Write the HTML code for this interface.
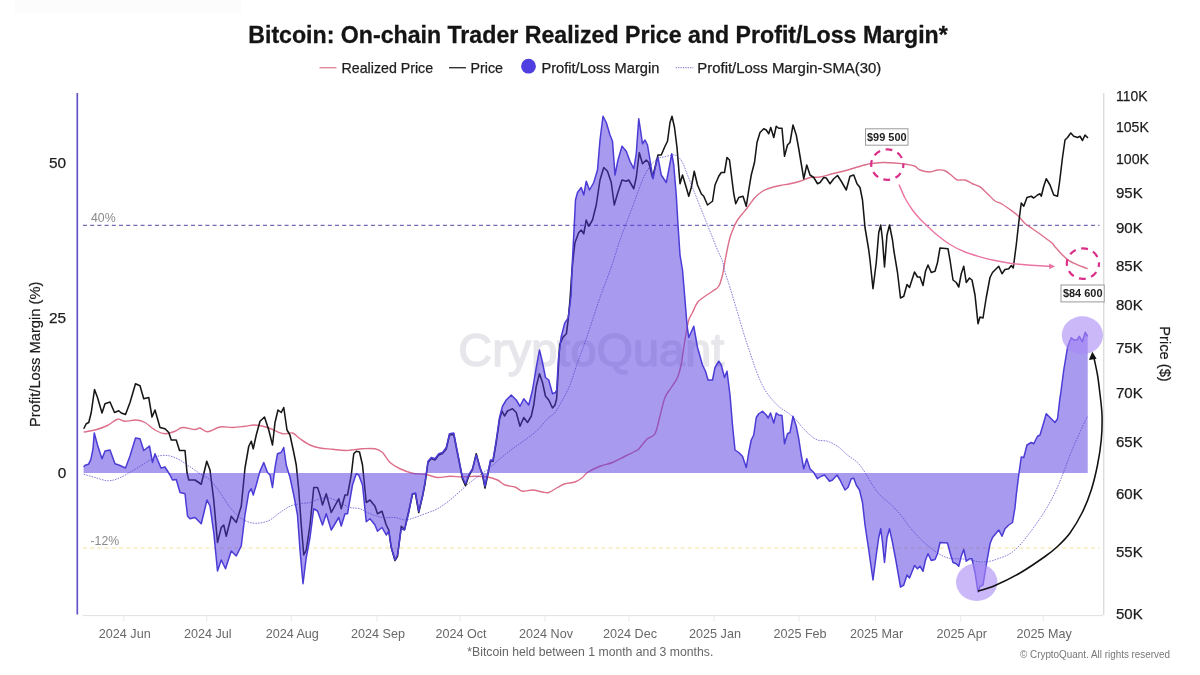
<!DOCTYPE html>
<html lang="en">
<head>
<meta charset="utf-8">
<title>Bitcoin: On-chain Trader Realized Price and Profit/Loss Margin</title>
<style>
html,body{margin:0;padding:0;background:#fff;}
body{width:1200px;height:675px;overflow:hidden;font-family:"Liberation Sans",sans-serif;}
svg{display:block;}
svg text{font-family:"Liberation Sans",sans-serif;}
.title{font-size:23.2px;font-weight:700;fill:#141414;stroke:#141414;stroke-width:.3px;}
.legend text{font-size:14.2px;fill:#1e1e1e;stroke:#1e1e1e;stroke-width:.25px;}
.yl text{font-size:15.4px;fill:#1c1c1c;stroke:#1c1c1c;stroke-width:.25px;text-anchor:end;}
.yr text{font-size:15px;fill:#1c1c1c;stroke:#1c1c1c;stroke-width:.25px;}
.xl text{font-size:12.6px;fill:#686868;text-anchor:middle;}
.axt{font-size:14.7px;fill:#1c1c1c;stroke:#1c1c1c;stroke-width:.2px;text-anchor:middle;}
.ref{font-size:12.3px;fill:#8a8a8a;}
.note{font-size:12px;fill:#666;text-anchor:middle;}
.copy{font-size:10.2px;fill:#777;text-anchor:end;}
.tag{font-size:10.95px;font-weight:700;fill:#222;text-anchor:middle;}
.wm{font-size:46.5px;fill:#e6e6eb;stroke:#e6e6eb;stroke-width:1.4px;stroke-linejoin:round;text-anchor:middle;}
</style>
</head>
<body>
<svg width="1200" height="675" viewBox="0 0 1200 675">
<rect x="0" y="0" width="1200" height="675" fill="#ffffff"/>
<rect x="15" y="0" width="226" height="14" fill="#fcfcfc"/>

<!-- title -->
<text class="title" x="598" y="42.9" text-anchor="middle" textLength="699.5" lengthAdjust="spacingAndGlyphs">Bitcoin: On-chain Trader Realized Price and Profit/Loss Margin*</text>

<!-- legend -->
<g class="legend">
<line x1="319.5" y1="67.7" x2="336.5" y2="67.7" stroke="#e08aa0" stroke-width="1.4"/>
<text x="341.6" y="73" textLength="91.5" lengthAdjust="spacingAndGlyphs">Realized Price</text>
<line x1="449" y1="67.7" x2="466" y2="67.7" stroke="#333" stroke-width="1.4"/>
<text x="470.5" y="73" textLength="32.5" lengthAdjust="spacingAndGlyphs">Price</text>
<circle cx="528.5" cy="66.2" r="7.4" fill="#4f3fe0"/>
<text x="541.4" y="73" textLength="118" lengthAdjust="spacingAndGlyphs">Profit/Loss Margin</text>
<line x1="675.7" y1="67.7" x2="693.3" y2="67.7" stroke="#6a62c8" stroke-width="1" stroke-dasharray="1.2 1.2"/>
<text x="697.3" y="73" textLength="184" lengthAdjust="spacingAndGlyphs">Profit/Loss Margin-SMA(30)</text>
</g>

<!-- watermark -->
<text class="wm" x="591.3" y="366" textLength="266" lengthAdjust="spacingAndGlyphs">CryptoQuant</text>

<!-- axes -->
<line x1="82.5" y1="615.6" x2="1103" y2="615.6" stroke="#e0e0e0" stroke-width="1"/>
<g stroke="#e8e8e8" stroke-width="1"><line x1="123.75" y1="615.6" x2="123.75" y2="621.5"/><line x1="206.75" y1="615.6" x2="206.75" y2="621.5"/><line x1="291.25" y1="615.6" x2="291.25" y2="621.5"/><line x1="377" y1="615.6" x2="377" y2="621.5"/><line x1="460" y1="615.6" x2="460" y2="621.5"/><line x1="545" y1="615.6" x2="545" y2="621.5"/><line x1="629" y1="615.6" x2="629" y2="621.5"/><line x1="714" y1="615.6" x2="714" y2="621.5"/><line x1="799" y1="615.6" x2="799" y2="621.5"/><line x1="875.5" y1="615.6" x2="875.5" y2="621.5"/><line x1="960.75" y1="615.6" x2="960.75" y2="621.5"/><line x1="1043.25" y1="615.6" x2="1043.25" y2="621.5"/></g>
<line x1="1103.7" y1="93" x2="1103.7" y2="615" stroke="#dcdcdc" stroke-width="1.4"/>
<line x1="77.3" y1="93" x2="77.3" y2="614.5" stroke="#6055c6" stroke-width="1.7"/>

<!-- ref lines -->
<line x1="83" y1="225.3" x2="1099.5" y2="225.3" stroke="#3b3296" stroke-width="0.9" stroke-dasharray="4 3.2"/>
<line x1="83" y1="548" x2="1099.5" y2="548" stroke="#efe49a" stroke-width="1.2" stroke-dasharray="4 3.2"/>
<text class="ref" x="91" y="222.3">40%</text>
<text class="ref" x="90.5" y="545.3">-12%</text>

<!-- realized price -->
<path d="M83.75,432.00C85.62,431.67 91.04,431.08 95.00,430.00C98.96,428.92 103.75,427.29 107.50,425.50C111.25,423.71 114.58,419.96 117.50,419.25C120.42,418.54 121.88,421.12 125.00,421.25C128.12,421.38 132.92,419.79 136.25,420.00C139.58,420.21 141.88,420.83 145.00,422.50C148.12,424.17 151.67,428.12 155.00,430.00C158.33,431.88 161.67,433.54 165.00,433.75C168.33,433.96 172.08,432.29 175.00,431.25C177.92,430.21 179.17,427.79 182.50,427.50C185.83,427.21 192.08,429.42 195.00,429.50C197.92,429.58 197.92,427.62 200.00,428.00C202.08,428.38 204.17,431.92 207.50,431.75C210.83,431.58 215.83,427.71 220.00,427.00C224.17,426.29 228.33,427.62 232.50,427.50C236.67,427.38 241.25,426.67 245.00,426.25C248.75,425.83 251.25,424.79 255.00,425.00C258.75,425.21 262.92,426.04 267.50,427.50C272.08,428.96 278.33,432.83 282.50,433.75C286.67,434.67 289.58,432.17 292.50,433.00C295.42,433.83 297.08,436.75 300.00,438.75C302.92,440.75 306.67,443.46 310.00,445.00C313.33,446.54 316.25,447.29 320.00,448.00C323.75,448.71 328.33,448.83 332.50,449.25C336.67,449.67 340.83,450.50 345.00,450.50C349.17,450.50 354.58,449.54 357.50,449.25C360.42,448.96 359.58,448.83 362.50,448.75C365.42,448.67 371.67,448.12 375.00,448.75C378.33,449.38 380.00,450.21 382.50,452.50C385.00,454.79 387.08,459.79 390.00,462.50C392.92,465.21 396.25,466.96 400.00,468.75C403.75,470.54 408.33,472.33 412.50,473.25C416.67,474.17 420.83,473.54 425.00,474.25C429.17,474.96 433.33,477.17 437.50,477.50C441.67,477.83 445.83,476.33 450.00,476.25C454.17,476.17 458.33,477.00 462.50,477.00C466.67,477.00 470.83,476.25 475.00,476.25C479.17,476.25 483.75,476.38 487.50,477.00C491.25,477.62 494.58,478.67 497.50,480.00C500.42,481.33 502.08,483.83 505.00,485.00C507.92,486.17 512.08,485.96 515.00,487.00C517.92,488.04 519.58,490.75 522.50,491.25C525.42,491.75 529.17,489.88 532.50,490.00C535.83,490.12 539.79,491.58 542.50,492.00C545.21,492.42 546.25,493.25 548.75,492.50C551.25,491.75 554.79,488.96 557.50,487.50C560.21,486.04 562.08,484.67 565.00,483.75C567.92,482.83 572.08,483.04 575.00,482.00C577.92,480.96 580.42,479.08 582.50,477.50C584.58,475.92 584.58,474.38 587.50,472.50C590.42,470.62 595.83,467.92 600.00,466.25C604.17,464.58 608.33,464.17 612.50,462.50C616.67,460.83 620.83,458.33 625.00,456.25C629.17,454.17 635.00,451.46 637.50,450.00C640.00,448.54 638.33,449.38 640.00,447.50C641.67,445.62 645.00,441.04 647.50,438.75C650.00,436.46 652.92,437.54 655.00,433.75C657.08,429.96 658.33,422.04 660.00,416.00C661.67,409.96 663.12,402.25 665.00,397.50C666.88,392.75 669.17,390.83 671.25,387.50C673.33,384.17 675.83,381.42 677.50,377.50C679.17,373.58 680.21,369.00 681.25,364.00C682.29,359.00 682.92,352.75 683.75,347.50C684.58,342.25 685.42,337.08 686.25,332.50C687.08,327.92 687.71,323.33 688.75,320.00C689.79,316.67 691.04,315.42 692.50,312.50C693.96,309.58 695.42,305.21 697.50,302.50C699.58,299.79 702.50,298.12 705.00,296.25C707.50,294.38 710.21,292.92 712.50,291.25C714.79,289.58 717.08,288.96 718.75,286.25C720.42,283.54 721.54,278.75 722.50,275.00C723.46,271.25 723.67,268.17 724.50,263.75C725.33,259.33 726.58,252.88 727.50,248.50C728.42,244.12 728.96,241.00 730.00,237.50C731.04,234.00 732.50,230.42 733.75,227.50C735.00,224.58 736.04,222.29 737.50,220.00C738.96,217.71 740.83,215.83 742.50,213.75C744.17,211.67 745.42,210.21 747.50,207.50C749.58,204.79 752.50,200.21 755.00,197.50C757.50,194.79 760.00,192.83 762.50,191.25C765.00,189.67 767.08,188.96 770.00,188.00C772.92,187.04 776.67,186.21 780.00,185.50C783.33,184.79 786.67,184.46 790.00,183.75C793.33,183.04 796.67,182.29 800.00,181.25C803.33,180.21 806.67,178.21 810.00,177.50C813.33,176.79 816.25,177.62 820.00,177.00C823.75,176.38 828.33,174.79 832.50,173.75C836.67,172.71 840.83,171.88 845.00,170.75C849.17,169.62 853.33,168.17 857.50,167.00C861.67,165.83 865.83,164.50 870.00,163.75C874.17,163.00 878.33,162.62 882.50,162.50C886.67,162.38 890.83,162.67 895.00,163.00C899.17,163.33 904.17,163.96 907.50,164.50C910.83,165.04 912.92,165.33 915.00,166.25C917.08,167.17 917.50,169.04 920.00,170.00C922.50,170.96 927.08,172.00 930.00,172.00C932.92,172.00 935.00,170.21 937.50,170.00C940.00,169.79 942.50,169.71 945.00,170.75C947.50,171.79 950.42,174.71 952.50,176.25C954.58,177.79 955.42,179.38 957.50,180.00C959.58,180.62 962.50,179.38 965.00,180.00C967.50,180.62 970.00,182.60 972.50,183.75C975.00,184.90 977.50,185.24 980.00,186.90C982.50,188.56 985.00,191.35 987.50,193.70C990.00,196.05 992.75,199.37 995.00,201.00C997.25,202.63 998.50,202.08 1001.00,203.50C1003.50,204.92 1007.25,207.53 1010.00,209.50C1012.75,211.47 1015.00,212.97 1017.50,215.30C1020.00,217.63 1022.50,221.25 1025.00,223.50C1027.50,225.75 1030.00,227.05 1032.50,228.80C1035.00,230.55 1037.75,232.38 1040.00,234.00C1042.25,235.62 1044.00,237.00 1046.00,238.50C1048.00,240.00 1050.50,241.63 1052.00,243.00C1053.50,244.37 1053.25,244.70 1055.00,246.70C1056.75,248.70 1060.25,252.73 1062.50,255.00C1064.75,257.27 1066.00,258.67 1068.50,260.30C1071.00,261.93 1075.08,263.68 1077.50,264.80C1079.92,265.92 1081.30,266.33 1083.00,267.00C1084.70,267.67 1086.92,268.50 1087.70,268.80" fill="none" stroke="#dd6f8b" stroke-width="1.4"/>

<!-- price -->
<polyline points="83.75,428.75 86.25,423.75 88.75,422.50 91.25,412.50 94.50,389.50 97.50,397.50 102.00,413.00 105.00,403.75 110.00,402.00 114.50,412.50 118.75,410.75 121.25,413.00 125.50,414.50 130.00,402.50 135.50,383.75 140.00,385.75 143.75,398.75 148.75,397.50 152.00,417.00 155.00,410.00 160.00,427.50 165.00,428.75 168.75,432.50 171.25,440.00 176.25,440.00 179.50,450.50 185.00,450.50 187.00,472.50 188.75,480.00 195.00,480.00 201.25,484.25 206.75,461.25 210.00,470.00 213.75,500.00 217.50,542.50 221.25,527.50 223.75,525.00 226.25,536.25 231.25,516.25 236.25,522.50 241.25,506.25 245.00,468.00 248.75,446.25 251.25,441.25 253.25,448.75 256.25,435.00 260.00,421.25 264.50,417.00 268.75,430.00 272.50,445.00 275.00,422.50 278.00,410.00 281.25,412.50 283.75,407.50 287.00,430.00 290.00,435.00 293.75,452.50 296.25,465.00 298.75,490.00 301.25,525.00 303.75,555.00 306.25,550.00 310.00,525.00 313.75,487.50 317.50,487.50 320.00,495.00 322.50,505.00 326.25,493.75 331.25,512.50 338.75,498.75 341.25,508.75 345.00,495.00 347.50,495.00 351.25,475.00 353.75,453.75 356.25,451.25 359.50,452.00 362.50,465.00 366.25,502.50 370.00,500.00 375.00,506.25 377.50,513.75 382.00,511.25 386.25,525.00 388.75,530.00 391.25,547.50 395.00,560.50 397.50,556.25 401.25,526.25 404.50,529.50 408.75,511.25 412.50,493.75 415.50,493.75 418.75,512.50 422.50,496.25 425.00,483.75 428.00,462.50 431.25,458.50 435.00,460.00 438.75,455.00 442.50,453.50 446.25,449.00 449.50,435.00 453.75,434.50 457.00,451.00 460.00,466.00 462.50,479.00 465.50,485.75 468.75,476.00 472.50,469.50 476.25,453.75 480.00,468.00 482.50,475.00 485.00,488.00 487.50,476.00 490.50,461.25 493.00,461.25 496.25,442.50 499.50,419.50 502.00,411.00 504.50,416.00 507.50,411.00 512.50,408.75 516.25,412.50 520.00,426.25 523.75,417.50 527.50,422.50 531.25,416.25 533.75,405.00 536.25,386.25 539.50,373.75 542.50,382.50 545.50,396.25 548.75,400.00 552.50,408.00 555.00,405.00 556.60,399.00 558.00,375.00 559.60,345.00 562.90,337.30 566.40,333.80 568.20,319.60 570.00,300.00 572.00,270.00 573.50,255.00 575.00,242.50 578.75,232.50 581.25,230.00 583.75,233.75 586.25,220.00 588.75,226.25 592.50,220.00 596.25,205.00 600.00,180.00 603.75,167.50 607.50,171.25 611.25,182.50 614.25,205.00 617.50,193.75 622.00,180.00 626.25,181.25 628.75,180.00 633.75,188.75 636.25,177.50 639.25,152.50 642.50,163.75 646.25,160.00 648.75,162.50 652.50,177.50 655.00,167.50 658.00,155.00 661.25,155.00 665.00,146.25 667.50,141.25 670.00,122.50 672.00,116.25 674.50,127.50 677.00,147.50 680.00,183.75 682.50,175.00 686.25,187.50 688.75,196.25 691.25,187.50 694.25,171.25 697.50,185.00 701.25,193.75 703.75,196.25 707.50,205.00 712.50,201.25 715.00,185.00 718.75,176.25 721.25,172.50 724.50,172.50 727.00,157.50 729.50,160.00 732.00,180.00 733.75,193.75 735.75,203.75 738.75,197.50 743.00,196.25 746.25,206.25 748.75,190.00 751.25,175.00 754.50,162.50 757.00,142.50 760.00,132.50 763.75,128.75 766.25,130.00 768.75,133.75 770.75,127.50 773.75,137.50 776.25,126.25 778.75,128.25 782.00,128.25 784.50,156.25 787.50,145.00 790.00,142.50 793.00,125.00 796.25,135.00 798.75,148.75 801.25,163.75 803.75,178.75 806.75,165.00 810.00,175.00 813.75,177.50 817.50,183.75 820.00,182.50 823.75,177.50 826.25,178.00 830.00,183.75 833.75,178.75 837.50,175.50 841.25,181.25 846.25,190.00 850.00,176.25 853.75,175.00 857.00,183.75 860.00,187.50 862.50,200.00 865.00,227.50 868.75,250.00 870.00,260.00 873.00,288.75 876.25,262.50 878.75,232.50 880.75,225.00 882.50,240.00 884.50,267.00 887.00,235.00 889.50,225.00 892.50,240.00 893.75,250.00 897.50,272.50 900.50,298.00 903.75,296.25 907.00,284.50 909.50,287.50 914.50,272.00 917.50,277.00 920.00,277.00 923.00,285.50 925.50,271.25 928.00,265.00 931.25,272.50 935.00,271.25 937.50,262.50 940.00,248.00 948.00,248.75 950.00,260.00 953.00,280.00 956.25,282.50 958.75,287.00 961.25,273.75 963.75,266.25 966.25,282.50 969.50,278.00 972.00,280.00 975.00,295.00 978.00,323.75 980.00,317.00 983.00,318.00 986.25,297.50 990.00,277.50 992.50,272.50 998.75,266.25 1002.00,273.75 1005.00,269.50 1008.75,268.75 1011.25,265.50 1013.25,268.00 1016.25,245.00 1018.75,222.50 1021.25,203.00 1023.75,206.25 1027.00,197.50 1031.25,196.25 1033.75,198.00 1037.50,195.00 1040.00,193.75 1041.25,196.25 1043.75,186.25 1046.25,178.75 1050.00,185.00 1053.75,195.00 1057.50,196.25 1059.50,182.50 1062.50,157.50 1065.00,140.00 1067.50,137.50 1070.75,133.00 1073.75,136.25 1077.50,137.50 1080.00,136.25 1082.50,140.50 1085.00,135.00 1088.00,138.00" fill="none" stroke="#161616" stroke-width="1.55" stroke-linejoin="round"/>

<!-- margin area -->
<path d="M83.60,473.0 L83.60,467.00 L85.20,465.30 L88.40,464.30 L90.80,459.60 L93.00,449.00 L94.25,433.00 L97.50,445.00 L102.00,458.75 L105.00,451.00 L110.00,450.00 L115.00,463.75 L118.75,465.00 L121.00,466.00 L125.50,468.00 L130.00,456.00 L135.50,438.00 L140.00,438.75 L143.75,450.50 L149.50,446.00 L152.50,462.50 L155.00,453.75 L161.00,468.00 L165.00,467.00 L170.00,475.00 L172.50,480.00 L176.25,479.50 L180.00,492.50 L185.00,493.75 L187.50,516.00 L190.00,518.75 L195.00,517.50 L201.25,523.75 L207.00,500.00 L210.00,506.00 L213.75,532.50 L217.50,571.00 L221.25,560.00 L225.50,568.75 L231.25,551.00 L236.25,556.00 L241.25,546.00 L245.00,515.00 L248.75,492.50 L251.25,488.75 L253.25,495.00 L256.25,485.00 L260.00,471.00 L263.75,462.50 L267.50,472.50 L270.00,475.00 L272.50,487.50 L275.00,467.50 L277.50,453.75 L281.00,452.50 L283.75,447.50 L286.25,465.00 L290.00,477.50 L293.75,495.00 L297.50,515.00 L300.00,550.00 L303.00,583.75 L306.25,557.50 L310.00,537.50 L313.75,508.75 L317.50,511.00 L322.50,525.00 L326.25,513.75 L331.25,530.00 L338.75,517.50 L341.25,526.00 L345.00,513.75 L347.50,513.75 L352.50,485.00 L356.25,473.75 L358.75,475.00 L362.50,485.00 L366.25,521.75 L370.00,518.75 L375.00,525.00 L377.50,531.25 L382.00,527.50 L386.25,535.00 L388.75,531.25 L391.25,547.50 L395.00,560.00 L397.50,555.00 L401.25,528.75 L404.50,530.00 L408.75,512.50 L412.50,493.75 L415.50,493.00 L418.75,511.25 L422.50,496.25 L425.00,482.50 L428.00,461.25 L431.25,457.50 L435.00,458.75 L438.75,453.75 L442.50,452.50 L446.25,447.50 L449.50,433.75 L453.75,433.00 L457.00,450.00 L460.00,465.00 L462.50,477.50 L465.50,483.75 L468.75,475.00 L472.50,468.75 L476.25,455.00 L480.00,467.50 L482.50,473.75 L485.00,486.25 L487.50,475.00 L490.50,460.00 L493.00,460.00 L496.25,440.00 L499.50,417.50 L502.50,406.25 L506.25,400.00 L511.25,395.00 L516.25,400.00 L520.00,406.25 L523.75,398.75 L528.75,405.00 L532.50,390.00 L536.25,367.50 L539.50,350.00 L542.50,362.50 L545.50,377.50 L548.75,380.00 L552.50,393.75 L555.30,392.50 L556.70,390.00 L558.40,359.00 L561.10,337.30 L564.70,323.10 L568.20,317.80 L569.60,307.00 L571.00,296.00 L572.20,265.00 L573.75,235.00 L575.50,200.00 L577.50,192.50 L581.25,187.50 L583.75,195.00 L586.25,181.25 L589.50,190.00 L593.75,182.50 L597.50,170.00 L600.00,140.00 L603.00,116.25 L606.25,122.50 L610.00,135.00 L612.50,141.25 L615.00,175.00 L618.00,160.00 L622.00,146.25 L626.25,151.25 L630.00,161.25 L633.75,168.75 L636.25,153.75 L638.75,118.75 L640.50,130.00 L642.50,143.75 L645.00,140.00 L647.50,145.00 L650.00,160.00 L653.00,178.75 L656.25,162.50 L658.00,157.50 L661.25,175.00 L666.25,182.50 L668.75,170.00 L671.75,153.75 L673.75,165.00 L676.25,195.00 L678.00,225.00 L680.00,255.00 L682.50,270.00 L685.00,300.00 L687.00,325.00 L688.75,337.50 L693.75,326.25 L697.50,347.50 L702.50,365.00 L705.50,371.25 L708.00,380.00 L712.50,380.00 L715.00,367.50 L718.75,361.25 L721.25,365.00 L724.50,377.50 L727.00,371.25 L730.00,395.00 L732.50,425.00 L735.00,450.00 L738.75,452.50 L742.50,456.25 L746.25,467.50 L748.75,452.50 L751.25,440.00 L753.75,435.00 L756.25,417.50 L758.75,413.75 L762.50,411.25 L766.25,415.00 L768.25,418.00 L770.50,413.00 L773.75,423.00 L776.25,413.00 L778.75,415.00 L782.00,415.50 L784.50,443.75 L787.50,433.75 L790.00,432.50 L793.00,416.25 L796.25,426.25 L798.75,438.75 L801.25,455.00 L803.75,468.75 L806.75,458.75 L810.00,468.75 L813.75,472.50 L817.50,478.75 L821.25,476.25 L824.50,475.00 L829.50,481.25 L832.50,480.00 L837.00,475.00 L840.00,480.00 L845.00,490.00 L848.00,487.50 L851.25,478.75 L853.75,478.25 L856.25,485.00 L859.50,490.00 L862.50,502.50 L865.00,525.00 L868.75,550.00 L873.00,580.00 L876.25,555.00 L878.75,537.50 L880.75,528.75 L882.50,542.50 L884.50,562.50 L887.00,537.50 L889.50,528.75 L892.50,542.50 L896.25,562.50 L900.50,587.00 L903.75,585.00 L907.00,575.00 L909.50,578.00 L914.50,565.50 L917.50,568.75 L920.00,566.25 L923.00,571.25 L925.50,560.00 L928.00,553.75 L931.25,560.50 L935.00,559.50 L937.50,553.75 L940.00,542.50 L947.50,543.00 L950.00,552.50 L953.00,562.50 L956.25,563.75 L958.75,566.25 L961.25,556.25 L963.75,549.50 L966.25,561.25 L969.50,558.75 L972.00,558.75 L975.00,572.50 L978.00,592.00 L980.00,586.25 L983.00,585.00 L986.25,565.00 L990.00,543.75 L992.50,537.50 L998.75,530.00 L1002.00,536.25 L1005.00,528.75 L1008.75,525.00 L1012.50,522.50 L1015.00,507.50 L1016.25,495.00 L1018.75,475.00 L1021.25,457.00 L1023.75,457.50 L1027.00,445.00 L1031.25,442.50 L1033.75,443.75 L1037.50,436.25 L1040.00,435.00 L1043.75,422.50 L1046.25,413.75 L1050.00,417.50 L1055.00,422.50 L1057.50,418.75 L1060.00,397.50 L1060.50,395.00 L1063.75,370.00 L1067.50,347.50 L1069.50,342.00 L1071.30,337.70 L1074.00,340.00 L1077.00,340.00 L1079.30,336.30 L1082.30,341.70 L1085.30,332.30 L1087.70,336.30 L1087.70,473.0 Z" fill="#5236e0" fill-opacity="0.5" stroke="none"/>
<polyline points="83.60,467.00 85.20,465.30 88.40,464.30 90.80,459.60 93.00,449.00 94.25,433.00 97.50,445.00 102.00,458.75 105.00,451.00 110.00,450.00 115.00,463.75 118.75,465.00 121.00,466.00 125.50,468.00 130.00,456.00 135.50,438.00 140.00,438.75 143.75,450.50 149.50,446.00 152.50,462.50 155.00,453.75 161.00,468.00 165.00,467.00 170.00,475.00 172.50,480.00 176.25,479.50 180.00,492.50 185.00,493.75 187.50,516.00 190.00,518.75 195.00,517.50 201.25,523.75 207.00,500.00 210.00,506.00 213.75,532.50 217.50,571.00 221.25,560.00 225.50,568.75 231.25,551.00 236.25,556.00 241.25,546.00 245.00,515.00 248.75,492.50 251.25,488.75 253.25,495.00 256.25,485.00 260.00,471.00 263.75,462.50 267.50,472.50 270.00,475.00 272.50,487.50 275.00,467.50 277.50,453.75 281.00,452.50 283.75,447.50 286.25,465.00 290.00,477.50 293.75,495.00 297.50,515.00 300.00,550.00 303.00,583.75 306.25,557.50 310.00,537.50 313.75,508.75 317.50,511.00 322.50,525.00 326.25,513.75 331.25,530.00 338.75,517.50 341.25,526.00 345.00,513.75 347.50,513.75 352.50,485.00 356.25,473.75 358.75,475.00 362.50,485.00 366.25,521.75 370.00,518.75 375.00,525.00 377.50,531.25 382.00,527.50 386.25,535.00 388.75,531.25 391.25,547.50 395.00,560.00 397.50,555.00 401.25,528.75 404.50,530.00 408.75,512.50 412.50,493.75 415.50,493.00 418.75,511.25 422.50,496.25 425.00,482.50 428.00,461.25 431.25,457.50 435.00,458.75 438.75,453.75 442.50,452.50 446.25,447.50 449.50,433.75 453.75,433.00 457.00,450.00 460.00,465.00 462.50,477.50 465.50,483.75 468.75,475.00 472.50,468.75 476.25,455.00 480.00,467.50 482.50,473.75 485.00,486.25 487.50,475.00 490.50,460.00 493.00,460.00 496.25,440.00 499.50,417.50 502.50,406.25 506.25,400.00 511.25,395.00 516.25,400.00 520.00,406.25 523.75,398.75 528.75,405.00 532.50,390.00 536.25,367.50 539.50,350.00 542.50,362.50 545.50,377.50 548.75,380.00 552.50,393.75 555.30,392.50 556.70,390.00 558.40,359.00 561.10,337.30 564.70,323.10 568.20,317.80 569.60,307.00 571.00,296.00 572.20,265.00 573.75,235.00 575.50,200.00 577.50,192.50 581.25,187.50 583.75,195.00 586.25,181.25 589.50,190.00 593.75,182.50 597.50,170.00 600.00,140.00 603.00,116.25 606.25,122.50 610.00,135.00 612.50,141.25 615.00,175.00 618.00,160.00 622.00,146.25 626.25,151.25 630.00,161.25 633.75,168.75 636.25,153.75 638.75,118.75 640.50,130.00 642.50,143.75 645.00,140.00 647.50,145.00 650.00,160.00 653.00,178.75 656.25,162.50 658.00,157.50 661.25,175.00 666.25,182.50 668.75,170.00 671.75,153.75 673.75,165.00 676.25,195.00 678.00,225.00 680.00,255.00 682.50,270.00 685.00,300.00 687.00,325.00 688.75,337.50 693.75,326.25 697.50,347.50 702.50,365.00 705.50,371.25 708.00,380.00 712.50,380.00 715.00,367.50 718.75,361.25 721.25,365.00 724.50,377.50 727.00,371.25 730.00,395.00 732.50,425.00 735.00,450.00 738.75,452.50 742.50,456.25 746.25,467.50 748.75,452.50 751.25,440.00 753.75,435.00 756.25,417.50 758.75,413.75 762.50,411.25 766.25,415.00 768.25,418.00 770.50,413.00 773.75,423.00 776.25,413.00 778.75,415.00 782.00,415.50 784.50,443.75 787.50,433.75 790.00,432.50 793.00,416.25 796.25,426.25 798.75,438.75 801.25,455.00 803.75,468.75 806.75,458.75 810.00,468.75 813.75,472.50 817.50,478.75 821.25,476.25 824.50,475.00 829.50,481.25 832.50,480.00 837.00,475.00 840.00,480.00 845.00,490.00 848.00,487.50 851.25,478.75 853.75,478.25 856.25,485.00 859.50,490.00 862.50,502.50 865.00,525.00 868.75,550.00 873.00,580.00 876.25,555.00 878.75,537.50 880.75,528.75 882.50,542.50 884.50,562.50 887.00,537.50 889.50,528.75 892.50,542.50 896.25,562.50 900.50,587.00 903.75,585.00 907.00,575.00 909.50,578.00 914.50,565.50 917.50,568.75 920.00,566.25 923.00,571.25 925.50,560.00 928.00,553.75 931.25,560.50 935.00,559.50 937.50,553.75 940.00,542.50 947.50,543.00 950.00,552.50 953.00,562.50 956.25,563.75 958.75,566.25 961.25,556.25 963.75,549.50 966.25,561.25 969.50,558.75 972.00,558.75 975.00,572.50 978.00,592.00 980.00,586.25 983.00,585.00 986.25,565.00 990.00,543.75 992.50,537.50 998.75,530.00 1002.00,536.25 1005.00,528.75 1008.75,525.00 1012.50,522.50 1015.00,507.50 1016.25,495.00 1018.75,475.00 1021.25,457.00 1023.75,457.50 1027.00,445.00 1031.25,442.50 1033.75,443.75 1037.50,436.25 1040.00,435.00 1043.75,422.50 1046.25,413.75 1050.00,417.50 1055.00,422.50 1057.50,418.75 1060.00,397.50 1060.50,395.00 1063.75,370.00 1067.50,347.50 1069.50,342.00 1071.30,337.70 1074.00,340.00 1077.00,340.00 1079.30,336.30 1082.30,341.70 1085.30,332.30 1087.70,336.30" fill="none" stroke="#4b3cd6" stroke-width="1.5" stroke-linejoin="round"/>

<!-- sma -->
<path d="M83.75,474.25C85.62,474.79 91.04,476.42 95.00,477.50C98.96,478.58 103.75,480.54 107.50,480.75C111.25,480.96 114.17,479.92 117.50,478.75C120.83,477.58 123.75,475.83 127.50,473.75C131.25,471.67 136.25,468.54 140.00,466.25C143.75,463.96 147.08,461.67 150.00,460.00C152.92,458.33 154.58,457.00 157.50,456.25C160.42,455.50 164.17,455.08 167.50,455.50C170.83,455.92 174.17,457.17 177.50,458.75C180.83,460.33 183.75,462.50 187.50,465.00C191.25,467.50 196.25,471.25 200.00,473.75C203.75,476.25 206.67,476.88 210.00,480.00C213.33,483.12 216.67,487.92 220.00,492.50C223.33,497.08 226.67,503.33 230.00,507.50C233.33,511.67 236.67,515.00 240.00,517.50C243.33,520.00 246.67,521.58 250.00,522.50C253.33,523.42 256.67,523.42 260.00,523.00C263.33,522.58 266.67,521.75 270.00,520.00C273.33,518.25 276.67,514.79 280.00,512.50C283.33,510.21 286.67,507.71 290.00,506.25C293.33,504.79 296.67,504.38 300.00,503.75C303.33,503.12 306.67,503.33 310.00,502.50C313.33,501.67 316.67,499.46 320.00,498.75C323.33,498.04 326.67,497.62 330.00,498.25C333.33,498.88 336.67,500.96 340.00,502.50C343.33,504.04 346.67,506.46 350.00,507.50C353.33,508.54 356.67,507.71 360.00,508.75C363.33,509.79 366.25,512.29 370.00,513.75C373.75,515.21 378.33,516.88 382.50,517.50C386.67,518.12 391.25,517.08 395.00,517.50C398.75,517.92 401.67,520.00 405.00,520.00C408.33,520.00 411.67,518.54 415.00,517.50C418.33,516.46 421.25,515.21 425.00,513.75C428.75,512.29 433.33,511.04 437.50,508.75C441.67,506.46 446.25,502.92 450.00,500.00C453.75,497.08 456.67,494.17 460.00,491.25C463.33,488.33 466.67,485.21 470.00,482.50C473.33,479.79 476.67,477.50 480.00,475.00C483.33,472.50 486.67,470.21 490.00,467.50C493.33,464.79 496.25,461.88 500.00,458.75C503.75,455.62 508.33,451.88 512.50,448.75C516.67,445.62 520.83,443.12 525.00,440.00C529.17,436.88 533.75,433.54 537.50,430.00C541.25,426.46 544.58,421.67 547.50,418.75C550.42,415.83 552.50,415.62 555.00,412.50C557.50,409.38 560.00,404.58 562.50,400.00C565.00,395.42 567.50,391.25 570.00,385.00C572.50,378.75 575.00,369.58 577.50,362.50C580.00,355.42 582.50,349.58 585.00,342.50C587.50,335.42 590.00,327.50 592.50,320.00C595.00,312.50 597.50,304.58 600.00,297.50C602.50,290.42 605.33,283.42 607.50,277.50C609.67,271.58 610.92,268.25 613.00,262.00C615.08,255.75 617.58,247.00 620.00,240.00C622.42,233.00 625.00,226.67 627.50,220.00C630.00,213.33 632.50,206.67 635.00,200.00C637.50,193.33 640.00,185.62 642.50,180.00C645.00,174.38 647.50,169.79 650.00,166.25C652.50,162.71 655.00,160.33 657.50,158.75C660.00,157.17 662.50,157.38 665.00,156.75C667.50,156.12 670.42,155.08 672.50,155.00C674.58,154.92 675.83,155.00 677.50,156.25C679.17,157.50 680.83,159.38 682.50,162.50C684.17,165.62 685.83,170.83 687.50,175.00C689.17,179.17 690.83,183.33 692.50,187.50C694.17,191.67 695.83,195.83 697.50,200.00C699.17,204.17 700.83,208.33 702.50,212.50C704.17,216.67 705.83,220.83 707.50,225.00C709.17,229.17 710.83,233.33 712.50,237.50C714.17,241.67 715.83,246.04 717.50,250.00C719.17,253.96 721.25,257.58 722.50,261.25C723.75,264.92 723.75,267.62 725.00,272.00C726.25,276.38 727.92,280.75 730.00,287.50C732.08,294.25 735.00,304.17 737.50,312.50C740.00,320.83 742.92,330.83 745.00,337.50C747.08,344.17 748.33,347.50 750.00,352.50C751.67,357.50 753.33,362.92 755.00,367.50C756.67,372.08 758.33,376.25 760.00,380.00C761.67,383.75 762.92,386.67 765.00,390.00C767.08,393.33 770.00,397.08 772.50,400.00C775.00,402.92 777.50,405.42 780.00,407.50C782.50,409.58 785.00,410.62 787.50,412.50C790.00,414.38 792.50,416.25 795.00,418.75C797.50,421.25 800.00,424.79 802.50,427.50C805.00,430.21 807.50,432.92 810.00,435.00C812.50,437.08 814.58,438.96 817.50,440.00C820.42,441.04 824.17,440.21 827.50,441.25C830.83,442.29 834.17,443.96 837.50,446.25C840.83,448.54 844.17,452.29 847.50,455.00C850.83,457.71 854.58,459.58 857.50,462.50C860.42,465.42 862.50,468.75 865.00,472.50C867.50,476.25 870.00,481.25 872.50,485.00C875.00,488.75 877.08,491.88 880.00,495.00C882.92,498.12 886.67,500.58 890.00,503.75C893.33,506.92 896.67,510.04 900.00,514.00C903.33,517.96 906.67,523.42 910.00,527.50C913.33,531.58 916.67,535.17 920.00,538.50C923.33,541.83 926.67,544.83 930.00,547.50C933.33,550.17 936.67,552.67 940.00,554.50C943.33,556.33 946.67,557.79 950.00,558.50C953.33,559.21 956.67,558.50 960.00,558.75C963.33,559.00 966.67,559.46 970.00,560.00C973.33,560.54 976.67,561.79 980.00,562.00C983.33,562.21 986.67,561.92 990.00,561.25C993.33,560.58 996.67,559.25 1000.00,558.00C1003.33,556.75 1006.67,555.92 1010.00,553.75C1013.33,551.58 1016.67,548.54 1020.00,545.00C1023.33,541.46 1026.67,536.92 1030.00,532.50C1033.33,528.08 1037.08,522.83 1040.00,518.50C1042.92,514.17 1045.00,510.83 1047.50,506.50C1050.00,502.17 1052.50,497.75 1055.00,492.50C1057.50,487.25 1060.00,481.25 1062.50,475.00C1065.00,468.75 1067.50,461.25 1070.00,455.00C1072.50,448.75 1074.58,443.96 1077.50,437.50C1080.42,431.04 1085.83,419.79 1087.50,416.25" fill="none" stroke="#4a40c8" stroke-opacity="0.85" stroke-width="0.8" stroke-dasharray="1.6 1.1"/>

<!-- highlight circles -->
<ellipse cx="1082.4" cy="335.3" rx="20.6" ry="19" fill="#a688f5" fill-opacity="0.6"/>
<ellipse cx="976.7" cy="582.1" rx="20.7" ry="18.8" fill="#a688f5" fill-opacity="0.6"/>

<!-- annotations -->
<ellipse cx="887.3" cy="164.6" rx="16.1" ry="15.2" fill="none" stroke="#db2e88" stroke-width="2.2" stroke-dasharray="6.9 5.59" stroke-dashoffset="3.45"/>
<ellipse cx="1082.9" cy="263.6" rx="16.1" ry="15.2" fill="none" stroke="#db2e88" stroke-width="2.2" stroke-dasharray="6.9 5.59" stroke-dashoffset="3.45"/>
<path d="M899.00,184.50C900.00,186.75 902.75,193.75 905.00,198.00C907.25,202.25 910.00,206.50 912.50,210.00C915.00,213.50 917.50,216.30 920.00,219.00C922.50,221.70 925.00,223.82 927.50,226.20C930.00,228.57 931.25,230.20 935.00,233.25C938.75,236.30 945.00,241.38 950.00,244.50C955.00,247.62 960.00,249.95 965.00,252.00C970.00,254.05 975.00,255.38 980.00,256.80C985.00,258.22 990.00,259.43 995.00,260.50C1000.00,261.57 1005.00,262.54 1010.00,263.25C1015.00,263.96 1020.00,264.32 1025.00,264.75C1030.00,265.18 1035.83,265.54 1040.00,265.80C1044.17,266.06 1048.33,266.22 1050.00,266.30" fill="none" stroke="#ec74a3" stroke-width="1.4"/>
<path d="M1055,266.4 L1049.2,263.6 L1049.2,269.3 Z" fill="#ec74a3"/>
<rect x="865.5" y="128.8" width="42.5" height="16.4" fill="#fff" stroke="#9a9a9a" stroke-width="1"/>
<text class="tag" x="886.8" y="141">$99 500</text>
<rect x="1061" y="285" width="43.2" height="16.9" fill="#fff" stroke="#9a9a9a" stroke-width="1"/>
<text class="tag" x="1082.7" y="297.4">$84 600</text>

<!-- black arrow -->
<path d="M978.00,591.30C980.83,590.33 988.00,588.55 995.00,585.50C1002.00,582.45 1011.67,577.83 1020.00,573.00C1028.33,568.17 1038.75,560.92 1045.00,556.50C1051.25,552.08 1053.33,550.42 1057.50,546.50C1061.67,542.58 1065.83,538.75 1070.00,533.00C1074.17,527.25 1078.96,519.17 1082.50,512.00C1086.04,504.83 1088.75,497.83 1091.25,490.00C1093.75,482.17 1095.83,473.33 1097.50,465.00C1099.17,456.67 1100.50,448.33 1101.25,440.00C1102.00,431.67 1102.29,423.33 1102.00,415.00C1101.71,406.67 1100.25,396.67 1099.50,390.00C1098.75,383.33 1098.42,380.33 1097.50,375.00C1096.58,369.67 1094.58,360.83 1094.00,358.00" fill="none" stroke="#111" stroke-width="1.55"/>
<path d="M1092.3,351.8 L1088.9,360 L1096.6,358.8 Z" fill="#111"/>

<!-- y left labels -->
<g class="yl"><text x="66.2" y="168.2">50</text><text x="66.2" y="323.4">25</text><text x="66.2" y="477.8">0</text></g>
<text class="axt" transform="translate(40.3,354.3) rotate(-90)">Profit/Loss Margin (%)</text>

<!-- y right labels -->
<g class="yr"><text x="1116" y="101.3" textLength="31.4" lengthAdjust="spacingAndGlyphs">110K</text><text x="1116" y="131.8" textLength="32.8" lengthAdjust="spacingAndGlyphs">105K</text><text x="1116" y="163.9" textLength="33" lengthAdjust="spacingAndGlyphs">100K</text><text x="1116" y="197.6">95K</text><text x="1116" y="233.1">90K</text><text x="1116" y="270.6">85K</text><text x="1116" y="310.4">80K</text><text x="1116" y="352.8">75K</text><text x="1116" y="398.1">70K</text><text x="1116" y="446.8">65K</text><text x="1116" y="499.3">60K</text><text x="1116" y="556.5">55K</text><text x="1116" y="619.1">50K</text></g>
<text class="axt" transform="translate(1160.2,354) rotate(90)">Price ($)</text>

<!-- x labels -->
<g class="xl"><text x="124.75" y="637.5">2024 Jun</text><text x="207.75" y="637.5">2024 Jul</text><text x="292.25" y="637.5">2024 Aug</text><text x="378" y="637.5">2024 Sep</text><text x="461" y="637.5">2024 Oct</text><text x="546" y="637.5">2024 Nov</text><text x="630" y="637.5">2024 Dec</text><text x="715" y="637.5">2025 Jan</text><text x="800" y="637.5">2025 Feb</text><text x="876.5" y="637.5">2025 Mar</text><text x="961.75" y="637.5">2025 Apr</text><text x="1044.25" y="637.5">2025 May</text></g>

<text class="note" x="590.3" y="655.8" textLength="246" lengthAdjust="spacingAndGlyphs">*Bitcoin held between 1 month and 3 months.</text>
<text class="copy" x="1170" y="657.8" textLength="150" lengthAdjust="spacingAndGlyphs">© CryptoQuant. All rights reserved</text>
</svg>
</body>
</html>
